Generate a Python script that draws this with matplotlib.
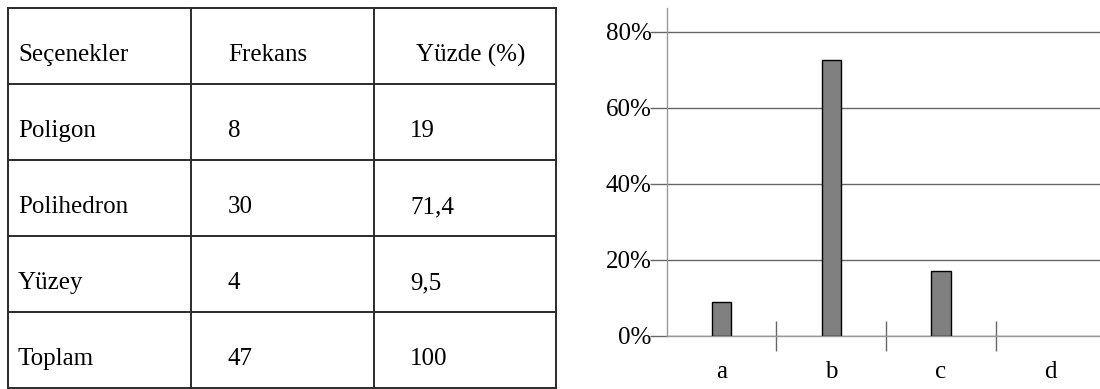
import matplotlib.pyplot as plt

# table contents
headers = ["Seçenekler", "Frekans", "Yüzde (%)"]
options = ["Poligon", "Polihedron", "Yüzey", "Toplam"]
freqs = ["8", "30", "4", "47"]
percents = ["19", "71,4", "9,5", "100"]

# bar chart values
categories = ["a", "b", "c", "d"]
values = [8.8, 72.6, 17.1, 0]
y_ticks = [0, 20, 40, 60, 80]
y_labels = ["0%", "20%", "40%", "60%", "80%"]

plt.rcParams['font.family'] = ['Liberation Serif', 'DejaVu Serif']

fig = plt.figure(figsize=(11, 3.89), dpi=100)

# table drawn in pixel units on a full-figure axes
tab = fig.add_axes([0, 0, 1, 1])
tab.set_xlim(0, 1100)
tab.set_ylim(389, 0)
tab.axis('off')

col_x = [8, 191, 374.3, 556]
row_y = [8.3, 84, 160, 236, 312, 387.5]
for x in col_x:
    tab.plot([x, x], [row_y[0], row_y[-1]], color='#2b2b2b', lw=1.4)
for y in row_y:
    tab.plot([col_x[0], col_x[-1]], [y, y], color='#2b2b2b', lw=1.4)

text_x = [18, 228, 410]
tab.text(text_x[0], row_y[0] + 53, headers[0], fontsize=18, va='baseline')
tab.text(text_x[1], row_y[0] + 53, headers[1], fontsize=18, va='baseline')
tab.text(416, row_y[0] + 53, headers[2], fontsize=18, va='baseline')
for i in range(len(options)):
    base = row_y[i + 1] + 53
    tab.text(text_x[0], base, options[i], fontsize=18, va='baseline')
    tab.text(text_x[1], base, freqs[i], fontsize=18, va='baseline')
    tab.text(text_x[2], base, percents[i], fontsize=18, va='baseline')

# bar chart on the right
ax = fig.add_axes([666.7 / 1100, 53.3 / 389, 438.8 / 1100, 327.4 / 389])
edges = ['black' if v > 0 else 'none' for v in values]
ax.bar(range(len(categories)), values, width=0.176, color='#808080',
       edgecolor=edges, linewidth=1.0, zorder=3)
ax.set_xlim(-0.5, 3.5)
ax.set_ylim(0, 86.2)

ax.set_yticks(y_ticks)
ax.set_yticklabels(y_labels, fontsize=18)
ax.tick_params(axis='y', length=12, width=1, color='#666666', pad=-1)
ax.yaxis.grid(True, color='#666666', linewidth=1)
ax.set_axisbelow(True)

ax.set_xticks(range(len(categories)))
ax.set_xticklabels(categories, fontsize=18)
ax.set_xticks([0.5, 1.5, 2.5], minor=True)
ax.tick_params(axis='x', which='major', length=0, pad=18)
ax.tick_params(axis='x', which='minor', direction='inout', length=21,
               width=1, color='#666666')

for side in ['top', 'right']:
    ax.spines[side].set_visible(False)
for side in ['left', 'bottom']:
    ax.spines[side].set_color('#999999')
    ax.spines[side].set_linewidth(1)

fig.savefig("out.png", dpi=100)
